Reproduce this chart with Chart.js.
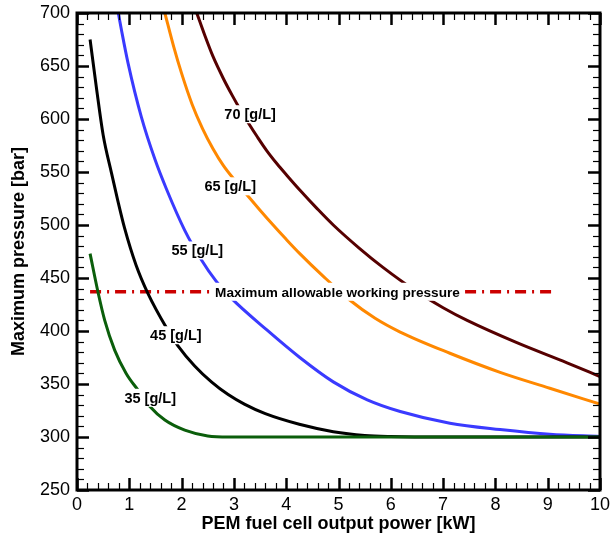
<!DOCTYPE html>
<html>
<head>
<meta charset="utf-8">
<title>Maximum pressure vs PEM fuel cell output power</title>
<script src="https://cdn.jsdelivr.net/npm/chart.js@4.4.1/dist/chart.umd.min.js"></script>
<style>
  html, body { margin: 0; padding: 0; background: #fff; }
  #wrap { width: 611px; height: 536px; position: relative; }
</style>
</head>
<body>
<div id="wrap"><canvas id="chart"></canvas></div>
<script>
// Storage density curves: output power [kW] vs maximum pressure [bar]
const power35 = [0.25, 0.4, 0.53, 0.72, 0.94, 1.17, 1.39, 1.68, 2.06, 2.5, 2.9, 3.5, 4, 5, 6, 7, 8, 9, 10];
const press35 = [473, 437, 410, 382, 360, 344, 329, 316, 306.5, 301, 300, 300, 300, 300, 300, 300, 300, 300, 300];

const power45 = [0.25, 0.37, 0.5, 0.66, 0.78, 0.91, 1.13, 1.36, 1.71, 1.93, 2.25, 2.57, 2.89, 3.2, 3.6, 4.25, 4.9, 5.5, 6, 7, 8, 9, 10];
const press45 = [675, 630, 585, 549, 523, 497, 462, 435, 403, 386, 367, 352, 340, 331, 322, 312, 305, 301.5, 300.5, 300, 300, 300, 300];

const power55 = [0.79, 0.85, 0.975, 1.23, 1.49, 1.71, 2.06, 2.38, 2.66, 2.93, 3.63, 4.26, 4.9, 5.55, 6.18, 7.13, 8.09, 9.04, 10];
const press55 = [700, 684, 653, 602, 562, 534, 495, 467, 447, 432, 401, 375, 352, 335, 324, 313, 307, 302.5, 300.5];

const power65 = [1.68, 1.85, 2.0, 2.2, 2.4, 2.6, 2.8, 3.02, 3.24, 3.5, 3.75, 4.0, 4.26, 4.7, 5.22, 5.7, 6.18, 7.13, 8.09, 9.04, 10];
const press65 = [700, 668, 643, 614, 591, 572, 556, 542, 529, 514, 500, 486.5, 473, 452, 429, 412, 399, 379, 361, 346, 331];

const power70 = [2.29, 2.45, 2.6, 2.8, 2.96, 3.12, 3.28, 3.45, 3.63, 3.82, 4.01, 4.26, 4.6, 4.9, 5.4, 5.85, 6.5, 7.0, 7.46, 8.41, 9.37, 10];
const press70 = [700, 678, 659, 638, 623, 609, 596, 583, 570, 558, 547, 533, 515, 500, 478, 460, 437, 422, 410, 389, 370, 357];

// Maximum allowable working pressure
const mawpPower = [0.25, 9.1];
const mawpPress = [437, 437];

// In-plot labels, anchored in data coordinates
const labelText = ['70 [g/L]', '65 [g/L]', '55 [g/L]', '45 [g/L]', '35 [g/L]', 'Maximum allowable working pressure'];
const labelPower = [3.31, 2.93, 2.30, 1.89, 1.40, 4.98];
const labelPress = [604.5, 536.5, 476, 396, 337, 437];
const labelSize = [14.5, 14.5, 14.5, 14.5, 14.5, 13.6];

const FONT = '"Liberation Sans", Arial, Helvetica, sans-serif';

function points(xs, ys) {
  return xs.map((x, i) => ({ x: x, y: ys[i] }));
}

function curve(label, xs, ys, color) {
  return {
    label: label,
    data: points(xs, ys),
    borderColor: color,
    borderWidth: 3,
    pointRadius: 0,
    cubicInterpolationMode: 'monotone',
    fill: false,
  };
}

// White-backed text labels over the curves
const curveLabels = {
  id: 'curveLabels',
  afterDatasetsDraw(chart) {
    const { ctx, scales: { x, y } } = chart;
    ctx.save();
    ctx.textAlign = 'center';
    ctx.textBaseline = 'middle';
    labelText.forEach((text, i) => {
      ctx.font = 'bold ' + labelSize[i] + 'px ' + FONT;
      const px = x.getPixelForValue(labelPower[i]);
      const py = y.getPixelForValue(labelPress[i]);
      const w = ctx.measureText(text).width;
      ctx.fillStyle = '#fff';
      ctx.fillRect(px - w / 2 - 4, py - 9, w + 8, 18);
      ctx.fillStyle = '#000';
      ctx.fillText(text, px, py + 1);
    });
    ctx.restore();
  },
};

// Boxed frame with inward major/minor ticks on all four sides
const frame = {
  id: 'frame',
  afterDraw(chart) {
    const { ctx, chartArea: a, scales: { x, y } } = chart;
    ctx.save();
    ctx.strokeStyle = '#000';
    ctx.lineCap = 'butt';

    const tick = (x1, y1, x2, y2, w) => {
      ctx.lineWidth = w;
      ctx.beginPath();
      ctx.moveTo(x1, y1);
      ctx.lineTo(x2, y2);
      ctx.stroke();
    };

    for (let i = 0; i <= 50; i++) {
      const v = i * 0.2;
      const px = Math.round(x.getPixelForValue(v)) + 0.5;
      const major = i % 5 === 0;
      const len = major ? 12 : 7;
      const w = major ? 2.5 : 1.2;
      tick(px, a.bottom, px, a.bottom - len, w);
      tick(px, a.top, px, a.top + len, w);
    }
    for (let i = 0; i <= 45; i++) {
      const v = 250 + i * 10;
      const py = Math.round(y.getPixelForValue(v)) + 0.5;
      const major = i % 5 === 0;
      const len = major ? 12 : 7;
      const w = major ? 2.5 : 1.2;
      tick(a.left, py, a.left + len, py, w);
      tick(a.right, py, a.right - len, py, w);
    }

    ctx.lineWidth = 3;
    ctx.strokeRect(a.left, a.top, a.right - a.left, a.bottom - a.top);
    ctx.restore();
  },
};

Chart.defaults.font.family = FONT;
Chart.defaults.color = '#000';

const ctx = document.getElementById('chart').getContext('2d');
new Chart(ctx, {
  type: 'line',
  data: {
    datasets: [
      curve('35 [g/L]', power35, press35, '#0b5e0b'),
      curve('45 [g/L]', power45, press45, '#000000'),
      curve('55 [g/L]', power55, press55, '#3a3aff'),
      curve('65 [g/L]', power65, press65, '#ff8800'),
      curve('70 [g/L]', power70, press70, '#560000'),
      {
        label: 'Maximum allowable working pressure',
        data: points(mawpPower, mawpPress),
        borderColor: '#cc0000',
        borderWidth: 3.5,
        borderDash: [11, 6, 2, 6],
        pointRadius: 0,
        fill: false,
      },
    ],
  },
  options: {
    responsive: true,
    maintainAspectRatio: false,
    animation: false,
    layout: { padding: { top: 13, right: 11, left: 0, bottom: 0 } },
    plugins: {
      legend: { display: false },
      tooltip: { enabled: false },
    },
    scales: {
      x: {
        type: 'linear',
        min: 0,
        max: 10,
        grid: { display: false, drawTicks: false },
        border: { display: false },
        ticks: { stepSize: 1, padding: 4, font: { size: 18 }, maxRotation: 0 },
        title: {
          display: true,
          text: 'PEM fuel cell output power [kW]',
          font: { size: 18, weight: 'bold' },
          padding: { top: 0, bottom: 1 },
        },
        // fixed axis band; end labels may overhang the plot edges
        afterFit: (s) => {
          s.height = 46;
          s.paddingLeft = 0;
          s.paddingRight = 0;
        },
      },
      y: {
        type: 'linear',
        min: 250,
        max: 700,
        grid: { display: false, drawTicks: false },
        border: { display: false },
        ticks: { stepSize: 50, padding: 7, font: { size: 18 } },
        title: {
          display: true,
          text: 'Maximum pressure [bar]',
          font: { size: 18, weight: 'bold' },
          padding: { top: 8, bottom: 0 },
        },
        afterFit: (s) => {
          s.width = 77;
          s.paddingTop = 0;
          s.paddingBottom = 0;
        },
      },
    },
  },
  plugins: [curveLabels, frame],
});
</script>
</body>
</html>
